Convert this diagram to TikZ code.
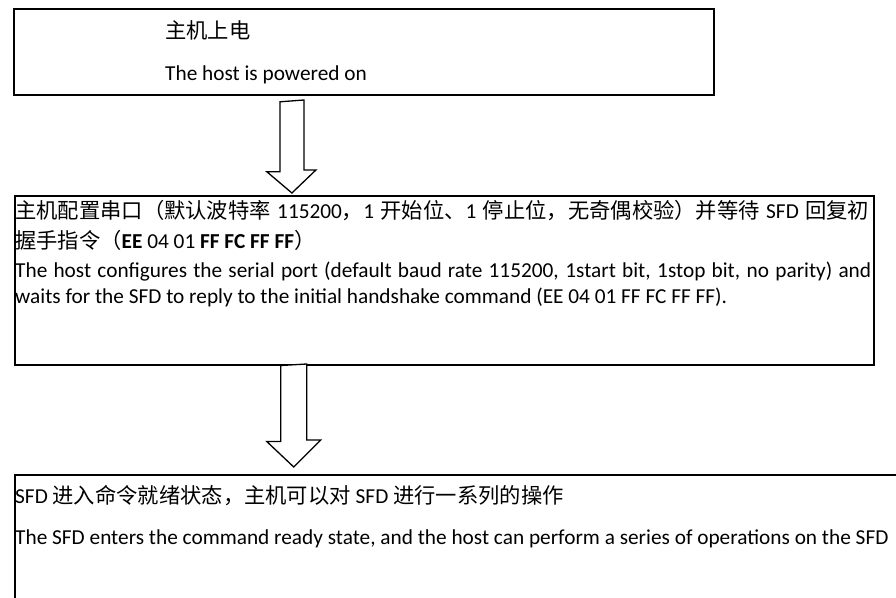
\documentclass[tikz,border=0pt]{standalone}
\usepackage{fontspec}
\setmainfont{Carlito}
\newfontfamily\cjk{Noto Sans CJK SC}
\begin{document}
\begin{tikzpicture}[x=1pt,y=-1pt,
  box/.style={draw, line width=1.5pt, inner sep=0pt, anchor=north west},
  txt/.style={anchor=base west, inner sep=0pt, font=\fontsize{21.3}{25}\selectfont},
  blockarrow/.style={draw, line width=1.3pt, fill=white, line join=miter}]
\useasboundingbox (0,0) rectangle (896,597);
\clip (0,0) rectangle (896,597);
% boxes
\node[box, line width=1.8pt, minimum width=700pt, minimum height=86pt] (b1) at (13,8) {};
\node[box, minimum width=859pt, minimum height=169pt] (b2) at (14,195) {};
\node[box, minimum width=900pt, minimum height=160pt] (b3) at (14,474) {};
% texts
\node[txt] (t11) at (165,38) {\cjk 主机上电};
\node[txt] (t12) at (165,80) {The host is powered on};
\node[txt] (t21) at (15,218) {\makebox[854pt][s]{{\cjk 主机配置串口（默认波特率} 115200{\cjk ，}1 {\cjk 开始位、}1 {\cjk 停止位，无奇偶校验）并等待} SFD {\cjk 回复初}}};
\node[txt] (t22) at (15,248) {{\cjk 握手指令（}\textbf{EE} 04 01 \textbf{FF FC FF FF}{\cjk ）}};
\node[txt] (t23) at (15,277) {\makebox[856pt][s]{The host configures the serial port (default baud rate 115200, 1start bit, 1stop bit, no parity) and}};
\node[txt] (t24) at (15,303) {waits for the SFD to reply to the initial handshake command (EE 04 01 FF FC FF FF).};
\node[txt] (t31) at (15,503) {SFD {\cjk 进入命令就绪状态，主机可以对} SFD {\cjk 进行一系列的操作}};
\node[txt] (t32) at (15,544) {The SFD enters the command ready state, and the host can perform a series of operations on the SFD};
% arrows
\coordinate (a1top) at ([shift={(-72,6)}]b1.south);
\coordinate (a1tip) at ([shift={(-72,-2)}]b2.north -| b1.south);
\draw[blockarrow] (a1top) ++(-12,0) -- ++(0,70) -- ++(-13,0) -- (a1tip) -- ++(24,-23) -- ++(-12,0) -- ++(0,-70) -- cycle;
\coordinate (a2top) at ([shift={(-150.5,0)}]b2.south);
\coordinate (a2tip) at ([shift={(-150.5,-7)}]b3.north -| b2.south);
\draw[blockarrow] (a2top) ++(-13,0) -- ++(0,76) -- ++(-14,0) -- (a2tip) -- ++(27,-27) -- ++(-14,0) -- ++(0,-76) -- cycle;
\end{tikzpicture}
\end{document}
